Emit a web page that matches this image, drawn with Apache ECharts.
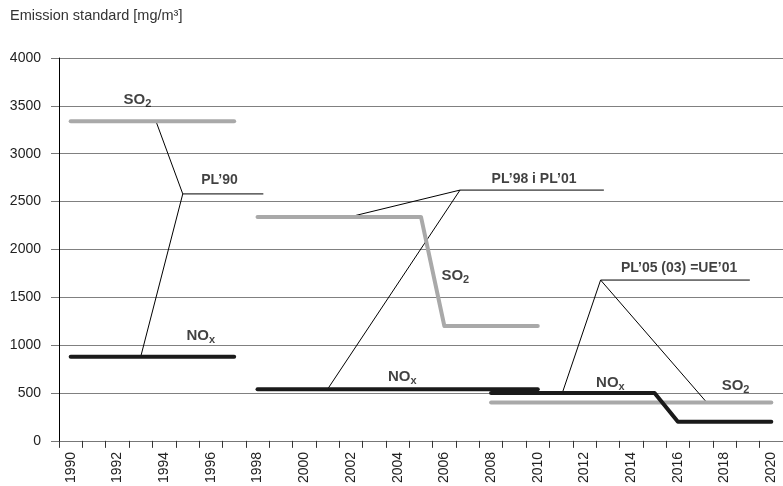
<!DOCTYPE html>
<html><head><meta charset="utf-8">
<script src="https://cdn.jsdelivr.net/npm/echarts@6/dist/echarts.min.js"></script>
<style>html,body{margin:0;padding:0;background:#fff}#c{width:783px;height:486px}</style>
</head><body><div id="c"></div>
<script>
// categories (x axis)
const years = ['1990','1991','1992','1993','1994','1995','1996','1997','1998','1999','2000','2001','2002','2003','2004','2005','2006','2007','2008','2009','2010','2011','2012','2013','2014','2015','2016','2017','2018','2019','2020'];
// y axis
const yMin = 0, yMax = 4000, yStep = 500;
const yTitle = 'Emission standard [mg/m³]';

// SO2 standards (gray)
const so2A = [[1990,3340],[1997,3340]];
const so2B = [[1998,2340],[2005,2340],[2006,1200],[2010,1200]];
const so2C = [[2008,400],[2020,400]];
// NOx standards (black)
const noxA = [[1990,880],[1997,880]];
const noxB = [[1998,540],[2010,540]];
const noxC = [[2008,500],[2015,500],[2016,200],[2020,200]];

// leader lines (data coordinates)
const leadPL90a = [[1993.65,3340],[1994.8,2580],[1998.25,2580]];
const leadPL90b = [[1994.8,2580],[1993.0,880]];
const leadPL98a = [[2001.95,2340],[2006.67,2620],[2012.83,2620]];
const leadPL98b = [[2006.67,2620],[2001.0,540]];
const leadPL05a = [[2011.05,500],[2012.69,1680],[2019.08,1680]];
const leadPL05b = [[2012.69,1680],[2017.24,400]];

// text annotations: [x, y, label]
const notes = [
  [1992.86,3565,'{b|SO}{s|2}'],
  [1995.57,1094,'{b|NO}{s|x}'],
  [2006.47,1720,'{b|SO}{s|2}'],
  [2004.20,670,'{b|NO}{s|x}'],
  [2013.11,608,'{b|NO}{s|x}'],
  [2018.47,572,'{b|SO}{s|2}'],
  [1996.37,2723,'{p|PL’90}'],
  [2009.84,2730,'{p|PL’98 i PL’01}'],
  [2016.05,1808,'{p|PL’05 (03) =UE’01}']
];

const FONT = '"Liberation Sans", Arial, sans-serif';
const chart = echarts.init(document.getElementById('c'), null, {renderer:'canvas'});

function thick(data, color){
  return {type:'line', xAxisIndex:1, data, symbol:'none', silent:true, animation:false,
    lineStyle:{color, width:4, cap:'round', join:'round'}, z:3};
}
function thin(data){
  return {type:'line', xAxisIndex:1, data, symbol:'none', silent:true, animation:false,
    lineStyle:{color:'#000', width:1}, z:2};
}

const series = [
  thin(leadPL90a), thin(leadPL90b), thin(leadPL98a), thin(leadPL98b), thin(leadPL05a), thin(leadPL05b),
  thick(so2A,'#a9a9a9'), thick(so2B,'#a9a9a9'), thick(so2C,'#a9a9a9'),
  thick(noxA,'#1a1a1a'), thick(noxB,'#1a1a1a'), thick(noxC,'#1a1a1a'),
  {type:'scatter', xAxisIndex:1, symbolSize:0, silent:true, animation:false, z:5,
   data: notes.map(n=>({value:[n[0],n[1]], label:{formatter:n[2]}})),
   itemStyle:{color:'transparent'},
   label:{show:true, position:'inside', color:'#111',
     rich:{
       b:{fontFamily:FONT, fontSize:15, fontWeight:'bold', color:'#111', lineHeight:20},
       s:{fontFamily:FONT, fontSize:11, fontWeight:'bold', color:'#111', lineHeight:12, padding:[8,0,0,0]},
       p:{fontFamily:FONT, fontSize:14, fontWeight:'bold', color:'#111', lineHeight:20}
     }}
  }
];

chart.setOption({
  animation:false,
  backgroundColor:'#fff',
  title:{text:yTitle, left:5, top:3, textStyle:{fontFamily:FONT, fontSize:14.5, fontWeight:'normal', color:'#333'}},
  grid:{left:59, top:58, width:731, height:383.5, containLabel:false},
  xAxis:[
    {type:'category', data:years, boundaryGap:true,
     axisLine:{show:true, lineStyle:{color:'#777', width:1}},
     axisTick:{show:true, interval:0, length:7, lineStyle:{color:'#333'}},
     axisLabel:{interval:1, rotate:90, margin:11, fontFamily:FONT, fontSize:14, color:'#222'},
     splitLine:{show:false}},
    {type:'value', min:1989.5, max:2020.5, show:false}
  ],
  yAxis:{type:'value', min:yMin, max:yMax, interval:yStep,
    axisLine:{show:true, lineStyle:{color:'#000', width:1}},
    axisTick:{show:true, length:8, lineStyle:{color:'#777'}},
    axisLabel:{margin:18, fontFamily:FONT, fontSize:14, color:'#222', formatter:v=>String(v)},
    splitLine:{show:true, lineStyle:{color:'#808080', width:1}}},
  series
});
</script>
</body></html>
